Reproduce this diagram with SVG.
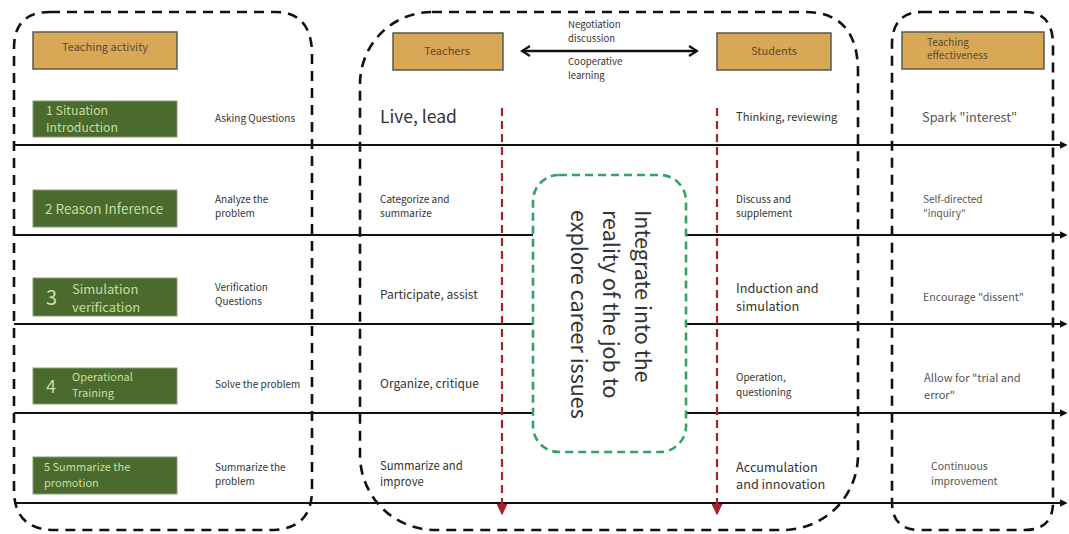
<svg xmlns="http://www.w3.org/2000/svg" width="1069" height="534" viewBox="0 0 1069 534">
<defs>
<style>
text{font-family:"Noto Sans CJK SC","Noto Sans",sans-serif;fill:#333}
.frame{fill:none;stroke:#111;stroke-width:2.6;stroke-dasharray:10 7}
.hdr rect{fill:#D8A857;stroke:#5a5a52;stroke-width:1.5}
.hdr text{fill:#5b4a30;font-size:11px}
.act rect{fill:#4B6A2D;stroke:#8a9a7a;stroke-width:1}
.act text{fill:#C7DFA0}
.row{stroke:#111;stroke-width:2;fill:none}
.red{stroke:#A8222C;stroke-width:2.2;stroke-dasharray:8 5;fill:none}
.eff text{fill:#555}
</style>
<marker id="rowEnd" viewBox="0 0 10 10" refX="8" refY="5" markerWidth="4" markerHeight="4" orient="auto"><path d="M0,0 L10,5 L0,10 Z" fill="#111"/></marker>
<marker id="redEnd" viewBox="0 0 10 10" refX="9" refY="5" markerWidth="5" markerHeight="5" orient="auto" markerUnits="strokeWidth"><path d="M0,0 L10,5 L0,10 Z" fill="#A8222C"/></marker>
<marker id="chev" viewBox="0 0 12 12" refX="10" refY="6" markerWidth="5" markerHeight="5" orient="auto-start-reverse"><path d="M2,1 L10,6 L2,11" fill="none" stroke="#111" stroke-width="2.2"/></marker>
</defs>
<rect width="1069" height="534" fill="#fff"/>

<g id="frames">
<path class="frame" d="M50 12 H275 Q312 12 312 55 V490 Q312 530 270 530 H55 Q14 530 14 490 V48 Q14 12 50 12 Z"/>
<path class="frame" d="M432 12 H805 Q858 12 858 72 V455 A75 75 0 0 1 783 530 H435 A75 75 0 0 1 360 455 V84 A72 72 0 0 1 432 12 Z"/>
<path class="frame" d="M922 12 H1025 Q1053 12 1053 45 V502 Q1053 530 1025 530 H920 Q892 530 892 502 V45 Q892 12 922 12 Z"/>
</g>

<g id="connectors">
<line class="row" x1="14" y1="145" x2="1066" y2="145" marker-end="url(#rowEnd)"/>
<line class="row" x1="14" y1="235" x2="533" y2="235"/>
<line class="row" x1="686" y1="235" x2="1066" y2="235" marker-end="url(#rowEnd)"/>
<line class="row" x1="14" y1="324" x2="533" y2="324"/>
<line class="row" x1="686" y1="324" x2="1066" y2="324" marker-end="url(#rowEnd)"/>
<line class="row" x1="14" y1="413" x2="533" y2="413"/>
<line class="row" x1="686" y1="413" x2="1066" y2="413" marker-end="url(#rowEnd)"/>
<line class="row" x1="14" y1="503" x2="1066" y2="503" marker-end="url(#rowEnd)"/>
<line class="red" x1="502" y1="108" x2="502" y2="514" marker-end="url(#redEnd)"/>
<line class="red" x1="717" y1="108" x2="717" y2="514" marker-end="url(#redEnd)"/>
<line x1="522" y1="51" x2="697" y2="51" stroke="#111" stroke-width="2.4" marker-start="url(#chev)" marker-end="url(#chev)"/>
</g>

<g id="arrow-label" font-size="9.6">
<text x="568" y="28">Negotiation</text>
<text x="568" y="42">discussion</text>
<text x="568" y="65">Cooperative</text>
<text x="568" y="79">learning</text>
</g>

<g id="hdr-activity" class="hdr"><rect x="33" y="32" width="144" height="37"/><text x="105" y="51" text-anchor="middle">Teaching activity</text></g>
<g id="hdr-teachers" class="hdr"><rect x="393" y="33" width="110" height="37"/><text x="447" y="55" text-anchor="middle">Teachers</text></g>
<g id="hdr-students" class="hdr"><rect x="717" y="33" width="114" height="37"/><text x="774" y="55" text-anchor="middle">Students</text></g>
<g id="hdr-effect" class="hdr"><rect x="902" y="32" width="142" height="37"/><text x="927" y="46" style="font-size:10px">Teaching</text><text x="927" y="59" style="font-size:10px">effectiveness</text></g>

<g id="act1" class="act"><rect x="33" y="101" width="144" height="36"/><text x="46" y="115" font-size="12.3">1 Situation</text><text x="46" y="132" font-size="12.3">Introduction</text></g>
<g id="act2" class="act"><rect x="33" y="190" width="144" height="37"/><text x="45" y="214" font-size="13.5">2 Reason Inference</text></g>
<g id="act3" class="act"><rect x="33" y="278" width="144" height="38"/><text x="46" y="305" font-size="20">3</text><text x="72" y="294" font-size="13">Simulation</text><text x="72" y="312" font-size="13">verification</text></g>
<g id="act4" class="act"><rect x="33" y="368" width="144" height="36"/><text x="46" y="393" font-size="18">4</text><text x="72" y="381" font-size="11">Operational</text><text x="72" y="397" font-size="11">Training</text></g>
<g id="act5" class="act"><rect x="33" y="457" width="144" height="37"/><text x="44" y="471" font-size="11">5 Summarize the</text><text x="44" y="487" font-size="11">promotion</text></g>

<g id="method" font-size="10">
<text x="215" y="122">Asking Questions</text>
<text x="215" y="203">Analyze the</text><text x="215" y="217">problem</text>
<text x="215" y="291">Verification</text><text x="215" y="305">Questions</text>
<text x="215" y="388">Solve the problem</text>
<text x="215" y="471">Summarize the</text><text x="215" y="485">problem</text>
</g>

<g id="teachers">
<text x="380" y="123" font-size="17.5">Live, lead</text>
<text x="380" y="203" font-size="10">Categorize and</text><text x="380" y="217" font-size="10">summarize</text>
<text x="380" y="299" font-size="12">Participate, assist</text>
<text x="380" y="388" font-size="12">Organize, critique</text>
<text x="380" y="470" font-size="11.3">Summarize and</text><text x="380" y="486" font-size="11.3">improve</text>
</g>

<g id="students">
<text x="736" y="121" font-size="11.1">Thinking, reviewing</text>
<text x="736" y="203" font-size="10">Discuss and</text><text x="736" y="217" font-size="10">supplement</text>
<text x="736" y="293" font-size="12.7">Induction and</text><text x="736" y="311" font-size="12.7">simulation</text>
<text x="736" y="381" font-size="10">Operation,</text><text x="736" y="396" font-size="10">questioning</text>
<text x="736" y="472" font-size="12.7">Accumulation</text><text x="736" y="489" font-size="12.7">and innovation</text>
</g>

<g id="effect" class="eff">
<text x="922" y="122" font-size="12.8">Spark "interest"</text>
<text x="923" y="203" font-size="10">Self-directed</text><text x="923" y="217" font-size="10">"inquiry"</text>
<text x="923" y="301" font-size="10.7">Encourage "dissent"</text>
<text x="924" y="382" font-size="11.1">Allow for "trial and</text><text x="924" y="399" font-size="11.1">error"</text>
<text x="931" y="470" font-size="10.5">Continuous</text><text x="931" y="485" font-size="10.5">improvement</text>
</g>

<g id="career">
<rect x="533" y="175" width="153" height="277" rx="26" fill="#fff" stroke="#2FA463" stroke-width="2.6" stroke-dasharray="8 5"/>
<g transform="translate(635 210) rotate(90)">
<text x="0" y="0" font-size="21.5" fill="#222">Integrate into the</text>
<text x="0" y="32" font-size="21.5" fill="#222">reality of the job to</text>
<text x="0" y="64" font-size="21.5" fill="#222">explore career issues</text>
</g>
</g>
</svg>
